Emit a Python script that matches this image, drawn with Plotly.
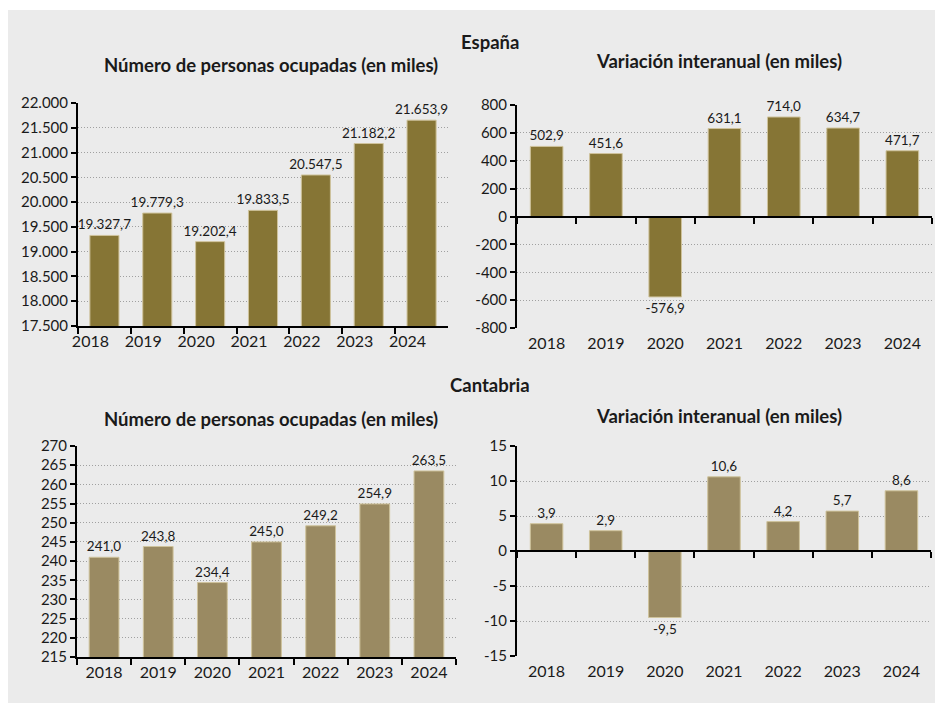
import plotly.graph_objects as go

years = ["2018", "2019", "2020", "2021", "2022", "2023", "2024"]
esp_ocupados = [19327.7, 19779.3, 19202.4, 19833.5, 20547.5, 21182.2, 21653.9]
esp_variacion = [502.9, 451.6, -576.9, 631.1, 714.0, 634.7, 471.7]
cant_ocupados = [241.0, 243.8, 234.4, 245.0, 249.2, 254.9, 263.5]
cant_variacion = [3.9, 2.9, -9.5, 10.6, 4.2, 5.7, 8.6]

esp_ocu_ticks = [17500, 18000, 18500, 19000, 19500, 20000, 20500, 21000, 21500, 22000]
esp_ocu_ticklabels = ["17.500", "18.000", "18.500", "19.000", "19.500", "20.000",
                      "20.500", "21.000", "21.500", "22.000"]
esp_var_ticks = [-800, -600, -400, -200, 0, 200, 400, 600, 800]
esp_var_ticklabels = ["-800", "-600", "-400", "-200", "0", "200", "400", "600", "800"]
cant_ocu_ticks = [215, 220, 225, 230, 235, 240, 245, 250, 255, 260, 265, 270]
cant_ocu_ticklabels = [str(v) for v in cant_ocu_ticks]
cant_var_ticks = [-15, -10, -5, 0, 5, 10, 15]
cant_var_ticklabels = ["-15", "-10", "-5", "0", "5", "10", "15"]

W, H = 943, 703
OFF = 8  # page body margin
BG = "#ebebeb"
C_ESP = "#867535"
C_CANT = "#9a8a62"
EDGE = "#cfc39c"
FONT = "Lato"
TXT = "#1a1a1a"


def es_fmt(v):
    s = f"{v:,.1f}"
    s = s.replace(",", "X").replace(".", ",").replace("X", ".")
    return s


def px_x(x):
    return (x - OFF) / W


def px_y(y):
    return 1 - (y - OFF) / H


fig = go.Figure()

panels = [
    (esp_ocupados, C_ESP, (78, 448), (103, 326), [17500, 22000], esp_ocu_ticks, esp_ocu_ticklabels, False, -14),
    (esp_variacion, C_ESP, (517, 932), (105, 328), [-800, 800], esp_var_ticks, esp_var_ticklabels, True, 0),
    (cant_ocupados, C_CANT, (77, 456), (446, 657), [215, 270], cant_ocu_ticks, cant_ocu_ticklabels, False, 0),
    (cant_variacion, C_CANT, (517, 931), (446, 656), [-15, 15], cant_var_ticks, cant_var_ticklabels, True, 0),
]

for i, (vals, col, xd, yd, rng, tv, tt, var, shift) in enumerate(panels):
    n = "" if i == 0 else str(i + 1)
    fig.add_trace(go.Bar(
        x=years, y=vals, xaxis="x" + n, yaxis="y" + n,
        marker=dict(color=col, line=dict(color=EDGE, width=1)),
        width=0.55,
        text=[es_fmt(v) for v in vals], textposition="outside",
        textfont=dict(family=FONT, size=13.5, color=TXT),
        constraintext="none",
        cliponaxis=False, showlegend=False, hoverinfo="skip",
    ))
    ydom = [px_y(yd[1]), px_y(yd[0])]
    xaxis = dict(
        domain=[px_x(xd[0]), px_x(xd[1])], anchor="y" + n,
        type="category", tickson="boundaries", ticks="outside", ticklen=6,
        tickwidth=2, tickcolor="black", showline=True, linecolor="black",
        linewidth=2, showgrid=False, tickfont=dict(family=FONT, size=16, color=TXT),
        fixedrange=True, automargin=False, ticklabelshift=shift,
    )
    if var:
        xaxis.update(anchor="free", position=(ydom[0] + ydom[1]) / 2,
                     ticklabelstandoff=int(round((yd[1] - yd[0]) / 2 + 1)))
    yaxis = dict(
        domain=ydom, anchor="x" + n, range=rng, tickvals=tv, ticktext=tt,
        showline=True, linecolor="black", linewidth=2,
        ticks="outside", ticklen=5, tickwidth=2, tickcolor="black",
        showgrid=True, gridcolor="#a0a0a0", griddash="1px,2px", gridwidth=1,
        zeroline=False, tickfont=dict(family=FONT, size=15, color=TXT),
        fixedrange=True, automargin=False,
    )
    fig.update_layout(**{"xaxis" + n: xaxis, "yaxis" + n: yaxis})

titles = [
    ("España", 490, 42),
    ("Cantabria", 490, 385),
    ("Número de personas ocupadas (en miles)", 271, 65),
    ("Variación interanual (en miles)", 719, 61),
    ("Número de personas ocupadas (en miles)", 271, 419),
    ("Variación interanual (en miles)", 719, 416),
]
ann = []
for t, x, y in titles:
    ann.append(dict(text="<b>" + t + "</b>", x=px_x(x), y=px_y(y), xref="paper",
                    yref="paper", xanchor="center", yanchor="middle",
                    showarrow=False, font=dict(family=FONT, size=18.5, color=TXT)))

fig.update_layout(
    width=W, height=H, margin=dict(l=0, r=0, t=0, b=0, autoexpand=False),
    paper_bgcolor="white", plot_bgcolor=BG,
    font=dict(family=FONT, color=TXT),
    annotations=ann,
    shapes=[dict(type="rect", xref="paper", yref="paper", x0=px_x(8), x1=1,
                 y0=0, y1=px_y(10), fillcolor=BG, line=dict(width=0), layer="below")],
)

fig.write_html("out.html")
